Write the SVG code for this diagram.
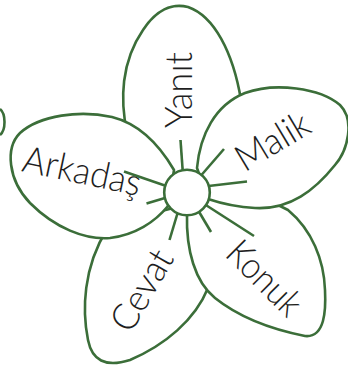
<svg xmlns="http://www.w3.org/2000/svg" width="348" height="370" viewBox="0 0 348 370">
<style>
.petal{fill:#ffffff;stroke:#3b6e39;stroke-width:2.6;stroke-linejoin:round}
.ray{stroke:#3b6e39;stroke-width:2.6;stroke-linecap:butt;fill:none}
.lbl{font-family:Lato,"Liberation Sans",sans-serif;font-weight:300;font-size:37px;fill:#1e1e1e;text-anchor:middle}
</style>
<rect width="348" height="370" fill="#ffffff"/>
<path d="M 0,109 C 6,114 6,130 0,135" class="ray"/>
<g id="petal-yanit">
<path class="petal" d="M 127,132 C 120,100 121,62 143,30 C 156,10 172,3 188,7 C 214,16 233,52 241,100 L 232,140 L 188,190 L 140,152 Z"/>
<text class="lbl" transform="translate(191.7,90) rotate(-90)" textLength="76" lengthAdjust="spacingAndGlyphs">Yanıt</text>
</g>
<g id="petal-cevat">
<path class="petal" d="M 208,288 C 195,320 165,345 130,360 C 105,368 92,360 88,340 C 82,310 83,268 107,229 L 150,214 L 185,205 L 198,240 Z"/>
<text class="lbl" transform="translate(152.8,296.5) rotate(-60)" textLength="88" lengthAdjust="spacingAndGlyphs">Cevat</text>
</g>
<g id="petal-konuk">
<path class="petal" d="M 187,214 C 186,250 195,282 215,298 C 240,318 275,330 305,336 C 325,338 326,310 325,290 C 324,260 312,230 288,210 L 260,196 L 212,196 Z"/>
<text class="lbl" transform="translate(255.5,287) rotate(45)" textLength="90" lengthAdjust="spacingAndGlyphs">Konuk</text>
</g>
<g id="petal-malik">
<path class="petal" d="M 197,168 C 200,135 215,105 245,93 C 275,82 320,88 340,105 C 355,120 348,150 335,165 C 315,190 290,210 255,208 C 235,207 220,203 208,199 Z"/>
<text class="lbl" transform="translate(279,152) rotate(-31)" textLength="80" lengthAdjust="spacingAndGlyphs">Malik</text>
</g>
<g id="petal-arkadas">
<path class="petal" d="M 174,170 C 160,146 140,124 112,117 C 80,110 40,115 20,133 C 5,148 8,180 30,203 C 55,228 85,240 110,238 C 135,235 155,222 168,206 Z"/>
<text class="lbl" transform="translate(79.5,183.5) rotate(12)" textLength="120" lengthAdjust="spacingAndGlyphs">Arkadaş</text>
</g>
<g id="connectors">
<line class="ray" x1="183" y1="175" x2="180.5" y2="140"/>
<line class="ray" x1="198" y1="179" x2="224" y2="149"/>
<line class="ray" x1="200" y1="187" x2="247" y2="181.5"/>
<line class="ray" x1="198" y1="200" x2="254" y2="236"/>
<line class="ray" x1="195" y1="205" x2="211" y2="232"/>
<line class="ray" x1="180" y1="205" x2="169.5" y2="240"/>
<line class="ray" x1="175" y1="195" x2="146.5" y2="203.5"/>
<line class="ray" x1="175" y1="189" x2="124" y2="171.5"/>
</g>
<g id="center">
<circle class="petal" cx="187" cy="192.5" r="22.8"/>
</g>
</svg>
